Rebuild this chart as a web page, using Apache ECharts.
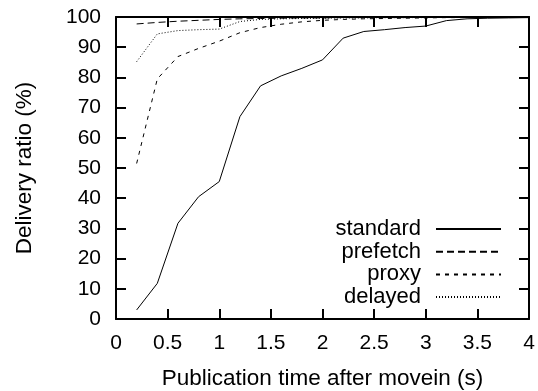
<!DOCTYPE html>
<html><head><meta charset="utf-8">
<script src="https://cdn.jsdelivr.net/npm/echarts@6/dist/echarts.min.js"></script>
<style>html,body{margin:0;padding:0;background:#fff}#c{width:538px;height:391px}</style>
</head><body><div id="c"></div>
<script>
var seriesNames = ['standard', 'prefetch', 'proxy', 'delayed'];
var xTimes = [0.2, 0.4, 0.6, 0.8, 1.0, 1.2, 1.4, 1.6, 1.8, 2.0, 2.2, 2.4, 2.6, 2.8, 3.0, 3.2, 3.4, 3.6, 3.8, 4.0];
var standard = [3, 11.8, 31.7, 40.5, 45.5, 67, 77.2, 80.5, 83, 85.8, 93, 95.2, 95.8, 96.5, 97, 98.8, 99.4, 99.6, 99.7, 99.8];
var prefetch = [97.7, 98.2, 98.6, 98.9, 99.2, 99.4, 99.5, 99.6, 99.7, 99.7, 99.8, 99.8, 99.8, 99.8, 99.9, 99.9, 99.9, 99.9, 99.9, 99.9];
var proxy = [51.5, 79.5, 86.9, 89.6, 92, 94.8, 96.5, 97.6, 98.4, 98.9, 99.2, 99.4, 99.5, 99.6, 99.7, 99.8, 99.8, 99.9, 99.9, 99.9];
var delayed = [85.2, 94.4, 95.5, 95.8, 96, 98.5, 99.2, 99.4, 99.5, 99.6, 99.7, 99.7, 99.8, 99.8, 99.8, 99.9, 99.9, 99.9, 99.9, 99.9];
var xTicks = [0, 0.5, 1, 1.5, 2, 2.5, 3, 3.5, 4];
var yTicks = [0, 10, 20, 30, 40, 50, 60, 70, 80, 90, 100];

var dashes = ['solid', [7, 4], [4, 5], [1, 2]];
var values = [standard, prefetch, proxy, delayed];
var font = 'Liberation Sans, Arial, sans-serif';
var fs = 21;
var nfs = 22.5;

function pairs(arr) { return xTimes.map(function (t, i) { return [t, arr[i]]; }); }

var chart = echarts.init(document.getElementById('c'), null, {renderer: 'canvas'});
var axisCommon = {
  axisLine: {show: true, onZero: false, lineStyle: {color: '#000', width: 2}},
  axisTick: {show: true, inside: true, length: 10, lineStyle: {color: '#000', width: 2}},
  splitLine: {show: false}
};
chart.setOption({
  animation: false,
  backgroundColor: '#fff',
  grid: {left: 116, right: 9, top: 17, bottom: 72, containLabel: false, outerBoundsMode: 'none'},
  legend: {
    data: seriesNames,
    orient: 'vertical',
    right: 31, top: 213,
    align: 'right',
    itemWidth: 65, itemHeight: 10, itemGap: 0.7,
    itemStyle: {color: 'rgba(0,0,0,0)', borderWidth: 0, opacity: 0},
    textStyle: {fontFamily: font, fontSize: 22, lineHeight: 22, color: '#000', padding: [0, 10, 0, 0]},
    inactiveColor: '#000'
  },
  xAxis: [
    Object.assign({}, axisCommon, {
      type: 'value', min: 0, max: 4, interval: 0.5,
      name: 'Publication time after movein (s)', nameLocation: 'middle', nameGap: 48,
      nameTextStyle: {fontFamily: font, fontSize: nfs, color: '#000'},
      axisLabel: {fontFamily: font, fontSize: fs, color: '#000', margin: 14,
        formatter: function (v) { return xTicks.indexOf(v) >= 0 ? String(v) : ''; }}
    }),
    Object.assign({}, axisCommon, {
      type: 'value', min: 0, max: 4, interval: 0.5, position: 'top',
      axisLabel: {show: false}
    })
  ],
  yAxis: [
    Object.assign({}, axisCommon, {
      type: 'value', min: 0, max: 100, interval: 10,
      name: 'Delivery ratio (%)', nameLocation: 'middle', nameGap: 80,
      nameTextStyle: {fontFamily: font, fontSize: nfs, color: '#000'},
      axisLabel: {fontFamily: font, fontSize: fs, color: '#000', margin: 15,
        formatter: function (v) { return yTicks.indexOf(v) >= 0 ? String(v) : ''; }}
    }),
    Object.assign({}, axisCommon, {
      type: 'value', min: 0, max: 100, interval: 10, position: 'right',
      axisLabel: {show: false}
    })
  ],
  series: seriesNames.map(function (n, i) {
    return {
      name: n, type: 'line', data: pairs(values[i]),
      symbol: 'none', showSymbol: false, silent: true,
      color: '#000',
      lineStyle: {color: '#000', width: 1, type: dashes[i]},
      z: 5 - i
    };
  })
});
</script></body></html>
